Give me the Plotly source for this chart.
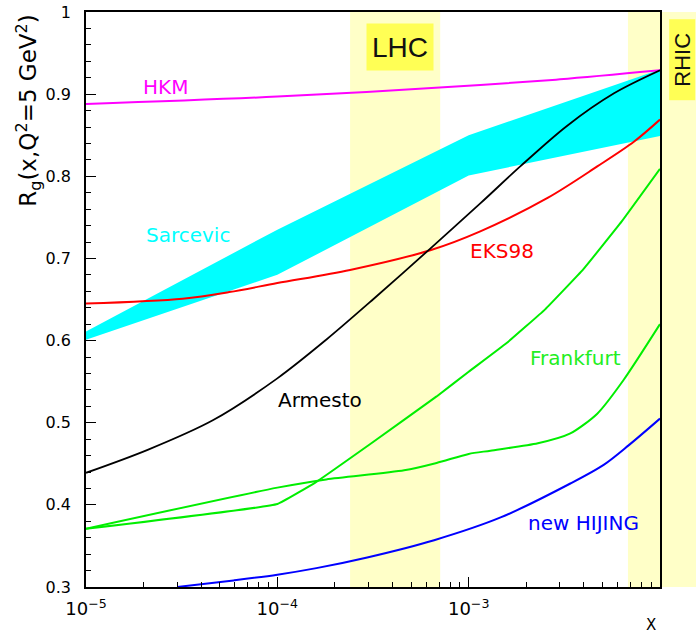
import numpy as np
import plotly.graph_objects as go

# ---------------- data ----------------
hkm_x = [1e-5, 1e-4, 1.15e-3, 3e-3, 1e-2]
hkm_y = [0.888, 0.897, 0.911, 0.918, 0.929]

sarc_x = [1e-5, 1e-4, 1e-3, 1e-2]
sarc_upper = [0.611, 0.735, 0.850, 0.930]
sarc_lower = [0.601, 0.680, 0.801, 0.849]

eks_x = [1e-5, 3.2e-5, 5.6e-5, 1e-4, 2.4e-4, 6.3e-4, 1.15e-3, 2.6e-3, 4.7e-3, 7.3e-3, 1e-2]
eks_y = [0.645, 0.651, 0.659, 0.670, 0.686, 0.710, 0.733, 0.774, 0.812, 0.842, 0.869]

arm_x = [1e-5, 2.1e-5, 4.6e-5, 1e-4, 1.8e-4, 3.16e-4, 6.3e-4, 1.15e-3, 1.86e-3, 3.25e-3, 5.75e-3, 1e-2]
arm_y = [0.439, 0.467, 0.503, 0.554, 0.601, 0.650, 0.712, 0.767, 0.812, 0.861, 0.901, 0.929]

frkA_x = [1e-5, 1e-4, 1.6e-4, 3.1e-4, 6.8e-4, 1e-3, 1.58e-3, 2.51e-3, 3.98e-3, 6.31e-3, 1e-2]
frkA_y = [0.371, 0.401, 0.428, 0.475, 0.532, 0.562, 0.597, 0.638, 0.687, 0.745, 0.809]

frkB_x = [1e-5, 1e-4, 1.8e-4, 4.6e-4, 6.8e-4, 1e-3, 1.3e-3, 2.3e-3, 3.4e-3, 4.7e-3, 6.45e-3, 1e-2]
frkB_y = [0.371, 0.421, 0.431, 0.442, 0.451, 0.462, 0.466, 0.475, 0.487, 0.511, 0.552, 0.620]

hij_x = [3e-5, 5.9e-5, 1e-4, 1.6e-4, 2.95e-4, 6.6e-4, 1.48e-3, 3.4e-3, 5.1e-3, 6.9e-3, 1e-2]
hij_y = [0.300, 0.308, 0.315, 0.323, 0.336, 0.357, 0.385, 0.426, 0.449, 0.473, 0.505]

x_min, x_max = 1e-5, 1e-2
y_min, y_max = 0.3, 1.0
lhc_range = [2.4e-4, 7.1e-4]
rhic_start = 6.8e-3

x_tickvals = [1e-5, 1e-4, 1e-3]
x_ticktext = ["10<sup>\u22125</sup>", "10<sup>\u22124</sup>", "10<sup>\u22123</sup>"]

labels = [
    # text, x, y, color
    ("HKM", 2.6e-5, 0.909, "#ff00ff"),
    ("Sarcevic", 3.4e-5, 0.7285, "#00ffff"),
    ("EKS98", 1.5e-3, 0.7085, "#ff0000"),
    ("Frankfurt", 3.6e-3, 0.579, "#22ee22"),
    ("Armesto", 1.67e-4, 0.5277, "#000000"),
    ("new HIJING", 4.0e-3, 0.3785, "#0000ff"),
]

FONT = "DejaVu Sans"
BAND = "rgb(255,255,200)"
BOX = "#ffff55"

fig = go.Figure()

# Sarcevic band
fig.add_trace(go.Scatter(x=sarc_x, y=sarc_lower, mode="lines",
                         line=dict(width=0, color="#00ffff"), hoverinfo="skip"))
fig.add_trace(go.Scatter(x=sarc_x, y=sarc_upper, mode="lines", fill="tonexty",
                         fillcolor="#00ffff", line=dict(width=0, color="#00ffff"),
                         hoverinfo="skip"))

curves = [
    (hkm_x, hkm_y, "#ff00ff", 2, 0.9),
    (eks_x, eks_y, "#ff0000", 2, 0.9),
    (arm_x, arm_y, "#000000", 1.8, 0.9),
    (frkA_x, frkA_y, "#00ee00", 2, 0.25),
    (frkB_x, frkB_y, "#00ee00", 2, 0.7),
    (hij_x, hij_y, "#0000ff", 2, 0.9),
]
for cx, cy, col, w, sm in curves:
    fig.add_trace(go.Scatter(x=cx, y=cy, mode="lines",
                             line=dict(color=col, width=w, shape="spline", smoothing=sm)))

# bands
lx0, lx1 = np.log10(x_min), np.log10(x_max)
rhic_frac = (np.log10(rhic_start) - lx0) / (lx1 - lx0)
shapes = [
    dict(type="rect", xref="x", yref="paper", x0=lhc_range[0], x1=lhc_range[1],
         y0=0, y1=1, fillcolor=BAND, line=dict(width=0), layer="below"),
    dict(type="rect", xref="paper", yref="paper", x0=rhic_frac, x1=1.07,
         y0=0, y1=1, fillcolor=BAND, line=dict(width=0), layer="below"),
]

annotations = []
for text, ax_, ay_, col in labels:
    annotations.append(dict(text=text, x=np.log10(ax_), y=ay_, xref="x", yref="y",
                            xanchor="center", yanchor="middle",
                            showarrow=False, font=dict(family=FONT, size=20, color=col)))

annotations.append(dict(text="LHC", x=np.log10(4.4e-4), y=0.958, xref="x", yref="y",
                        xanchor="center", yanchor="middle",
                        showarrow=False, bgcolor=BOX, width=66, height=46, borderpad=0,
                        font=dict(family="Liberation Sans", size=28, color="#111111")))
annotations.append(dict(text="RHIC", x=1.0378, y=0.9165, xref="paper", yref="paper",
                        xanchor="center", yanchor="middle",
                        showarrow=False, bgcolor=BOX, width=80, height=25, borderpad=0,
                        textangle=-90,
                        font=dict(family="Liberation Sans", size=22, color="#111111")))
annotations.append(dict(text="R<sub>g</sub>(x,Q<sup>2</sup>=5 GeV<sup>2</sup>)",
                        x=-0.1005, y=1.0, xref="paper", yref="paper", yanchor="top",
                        xanchor="center", textangle=-90, showarrow=False,
                        font=dict(family=FONT, size=23, color="#000000")))
annotations.append(dict(text="X", x=0.985, y=-0.066, xref="paper", yref="paper",
                        xanchor="center", yanchor="middle", showarrow=False,
                        font=dict(family=FONT, size=15, color="#000000")))

minor_x = [m * 10.0 ** e for e in (-5, -4, -3) for m in range(2, 10)]

fig.update_layout(
    width=696, height=636,
    margin=dict(l=86, r=36, t=12, b=49),
    paper_bgcolor="white", plot_bgcolor="white",
    showlegend=False,
    shapes=shapes, annotations=annotations,
    font=dict(family=FONT, size=16, color="black"),
    xaxis=dict(type="log", range=[lx0, lx1], tickmode="array",
               tickvals=x_tickvals, ticktext=x_ticktext, automargin=False,
               ticks="inside", ticklen=10, tickwidth=1.2, tickcolor="black",
               showline=True, linecolor="black", linewidth=1.5, mirror=True,
               showgrid=False, zeroline=False, ticklabelstandoff=5,
               tickfont=dict(family=FONT, size=18),
               minor=dict(tickmode="array", tickvals=minor_x, ticks="inside",
                          ticklen=5, tickcolor="black", showgrid=False)),
    yaxis=dict(range=[y_min, y_max], dtick=0.1, tick0=0.3, automargin=False,
               ticks="inside", ticklen=10, tickwidth=1.2, tickcolor="black",
               showline=True, linecolor="black", linewidth=1.5, mirror=True,
               showgrid=False, zeroline=False, ticklabelstandoff=10,
               tickfont=dict(family=FONT, size=16),
               minor=dict(dtick=0.02, ticks="inside", ticklen=5,
                          tickcolor="black", showgrid=False)),
)

fig.write_html("out.html", config={"displayModeBar": False},
               post_script="document.body.style.margin='0px';")
